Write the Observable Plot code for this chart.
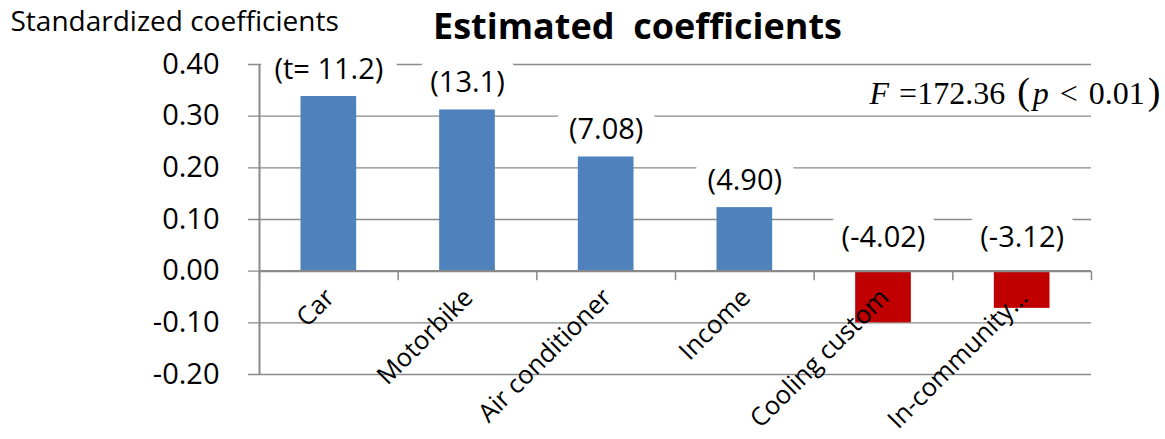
<!DOCTYPE html>
<html><head><meta charset="utf-8">
<script src="https://cdn.jsdelivr.net/npm/d3@7"></script>
<script src="https://cdn.jsdelivr.net/npm/@observablehq/plot@0.6"></script>
<style>body{margin:0;background:#fff} #chart svg{overflow:visible}</style>
</head><body><div id="chart"></div>
<script>
const categories = ["Car", "Motorbike", "Air conditioner", "Income", "Cooling custom", "In-community…"];
const coefficients = [0.338, 0.312, 0.221, 0.123, -0.100, -0.072];
const tLabels = ["(t= 11.2)", "(13.1)", "(7.08)", "(4.90)", "(-4.02)", "(-3.12)"];
const yTicks = [-0.2, -0.1, 0, 0.1, 0.2, 0.3, 0.4];
const title = "Estimated  coefficients";
const yTitle = "Standardized coefficients";
const fText = "F =172.36 (p < 0.01)";

const data = categories.map((c, i) => ({c, i, v: coefficients[i], t: tLabels[i]}));
const bounds = d3.range(categories.length + 1);
const tickSymbol = {draw(ctx) { ctx.moveTo(0, 0); ctx.lineTo(0, 9); }};
const font = "Open Sans";
const grey = "#8a8a8a";

const plot = Plot.plot({
  width: 1165, height: 439,
  marginLeft: 259, marginRight: 74, marginTop: 64, marginBottom: 65,
  x: {domain: [0, categories.length], axis: null},
  y: {domain: [-0.2, 0.4], axis: null},
  style: {fontFamily: font, background: "white", overflow: "visible", fontSize: "28px"},
  marks: [
    Plot.ruleY(yTicks, {y: d => d, stroke: grey, strokeWidth: 1.3, insetLeft: -11}),
    Plot.text(data.filter(d => d.v >= 0), {x: d => d.i + 0.5, y: "v", text: "t", dy: -27, lineAnchor: "middle", fontSize: 29, fill: "black", stroke: "white", strokeWidth: 30}),
    Plot.text(data.filter(d => d.v < 0), {x: d => d.i + 0.5, y: 0, text: "t", dy: -33, lineAnchor: "middle", fontSize: 29, fill: "black", stroke: "white", strokeWidth: 30}),
    Plot.rectY(data, {x1: d => d.i, x2: d => d.i + 1, y: "v", fill: d => d.v >= 0 ? "#4F81BD" : "#C00000", insetLeft: 41.5, insetRight: 41.5}),
    Plot.ruleX([0], {stroke: grey, strokeWidth: 2}),
    Plot.ruleY([0], {stroke: grey, strokeWidth: 2.2}),
    Plot.dot(bounds, {x: d => d, y: 0, symbol: tickSymbol, stroke: grey, strokeWidth: 1.5, r: 5}),
    Plot.text(yTicks, {frameAnchor: "left", y: d => d, text: d => d.toFixed(2), textAnchor: "end", dx: -40, fontSize: 29, fill: "black"}),
    Plot.text(data, {x: d => d.i + 0.5, y: 0, text: "c", rotate: -45, textAnchor: "end", lineAnchor: "bottom", dx: 7, dy: 28, fontSize: 25.5, fill: "black"}),
    Plot.text([title], {frameAnchor: "top", text: d => d, dx: -38, dy: -26, lineAnchor: "bottom", fontSize: 36, fontWeight: "bold", fill: "black"}),
    Plot.text([yTitle], {frameAnchor: "top-left", text: d => d, textAnchor: "start", dx: -249, dy: -34, lineAnchor: "bottom", fontSize: 28, fill: "black"}),
    Plot.text([fText], {frameAnchor: "top-right", text: d => d, textAnchor: "end", dx: 69, dy: 39, lineAnchor: "bottom", fontSize: 32, fontFamily: "Liberation Serif", fill: "black"})
  ]
});
document.getElementById("chart").appendChild(plot);

// style the F statistic: italic F and p, tall parentheses, math spacing
const ft = [...plot.querySelectorAll("text")].find(t => t.textContent === fText);
if (ft) {
  const NS = "http://www.w3.org/2000/svg";
  const parts = [
    ["F", {"font-style": "italic"}],
    [" =", {"dx": "2"}],
    ["172.36 ", {}],
    ["(", {"font-size": "38", "dx": "4"}],
    ["p", {"font-style": "italic", "dx": "3"}],
    [" <", {"dx": "3"}],
    [" 0.01", {"dx": "3"}],
    [")", {"font-size": "38", "dx": "3"}]
  ];
  ft.textContent = "";
  for (const [s, attrs] of parts) {
    const ts = document.createElementNS(NS, "tspan");
    for (const k in attrs) ts.setAttribute(k, attrs[k]);
    ts.textContent = s;
    ft.appendChild(ts);
  }
}
</script>
</body></html>
